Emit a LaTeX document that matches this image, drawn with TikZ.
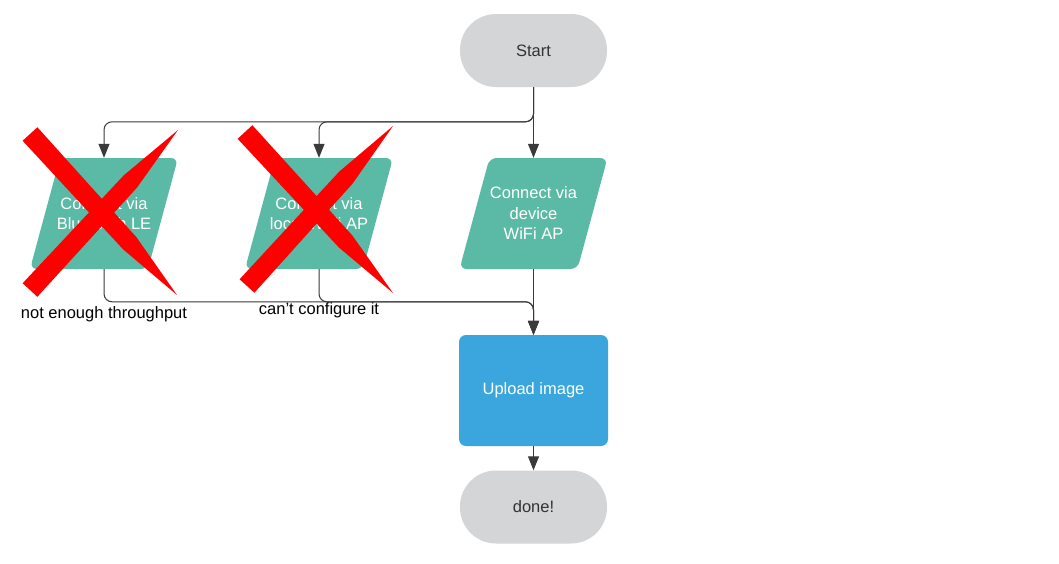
\documentclass[tikz,border=0pt]{standalone}
\usepackage{fontspec}
\setmainfont{Liberation Sans}
\usetikzlibrary{arrows.meta,calc}
\definecolor{teal1}{HTML}{5BBAA5}
\definecolor{blue1}{HTML}{3AA6DD}
\definecolor{gray1}{HTML}{D4D5D7}
\definecolor{txt}{HTML}{333333}
\definecolor{line1}{HTML}{3A3A3A}
\definecolor{xred}{HTML}{FF0000}
\newcommand\redstroke[2]{\fill[xred] let \p1=(#1), \p2=(#2), \n1={atan2(\y2-\y1,\x2-\x1)} in
  ($(\p1)+(\n1+90:10pt)$) -- ($(\p2)+(\n1:-70pt)+(\n1+90:9pt)$) -- (\p2) --
  ($(\p2)+(\n1:-70pt)+(\n1-90:9pt)$) -- ($(\p1)+(\n1-90:10pt)$) -- cycle;}
\tikzset{
  base/.style={font=\fontsize{16.5}{20.5}\selectfont, align=center, inner sep=0pt},
  term/.style={base, fill=gray1, text=txt, rounded corners=36pt, minimum width=147pt, minimum height=73pt},
  proc/.style={base, fill=blue1, text=white, rounded corners=7pt, minimum width=149pt, minimum height=111pt},
  io/.style={base, text=white, minimum width=118pt, minimum height=111pt},
  conn/.style={line1, line width=1pt, -{Triangle[length=14pt,width=11pt]}},
  lbl/.style={base, text=black},
}
\newcommand\paraback[1]{\fill[teal1, rounded corners=7pt]
  ($(#1.center)+(-44pt,55.5pt)$) -- ($(#1.center)+(74pt,55.5pt)$) --
  ($(#1.center)+(44pt,-55.5pt)$) -- ($(#1.center)+(-74pt,-55.5pt)$) -- cycle;}
\begin{document}
\begin{tikzpicture}[x=1pt,y=-1pt]
\useasboundingbox[fill=white] (0,0) rectangle (1059,563);
\node[term] (start) at (533.5,50.5) {Start};
\node[io] (bt) at (104,213.5) {};
\node[io] (lw) at (319,213.5) {};
\node[io] (dw) at (533.5,213.5) {};
\paraback{bt}\paraback{lw}\paraback{dw}
\node[io] at (bt) {Connect via\\Bluetooth LE};
\node[io] at (lw) {Connect via\\local WiFi AP};
\node[io] at (dw) {Connect via\\device\\WiFi AP};
\node[proc] (up) at (533.5,390.5) {Upload image};
\node[term] (done) at (533.5,507) {done!};
\node[lbl] (l1) at (104,314) {not enough throughput};
\node[lbl] (l2) at (319,310) {can't configure it};
\draw[conn] (start.south) -- (dw.north);
\draw[conn, rounded corners=8pt] (start.south) |- ($(bt.north)+(0,-36)$) -- (bt.north);
\draw[conn, rounded corners=8pt] (start.south) |- ($(lw.north)+(0,-36)$) -- (lw.north);
\draw[conn] (dw.south) -- (up.north);
\draw[conn, rounded corners=8pt] (bt.south) |- ($(up.north)+(0,-33)$) -- (up.north);
\draw[conn, rounded corners=8pt] (lw.south) |- ($(up.north)+(0,-33)$) -- (up.north);
\draw[conn] (up.south) -- (done.north);
\redstroke{30,134}{177,295}
\redstroke{30,290}{178,130}
\redstroke{245,132}{393,293}
\redstroke{247,286}{393,126}
\end{tikzpicture}
\end{document}
